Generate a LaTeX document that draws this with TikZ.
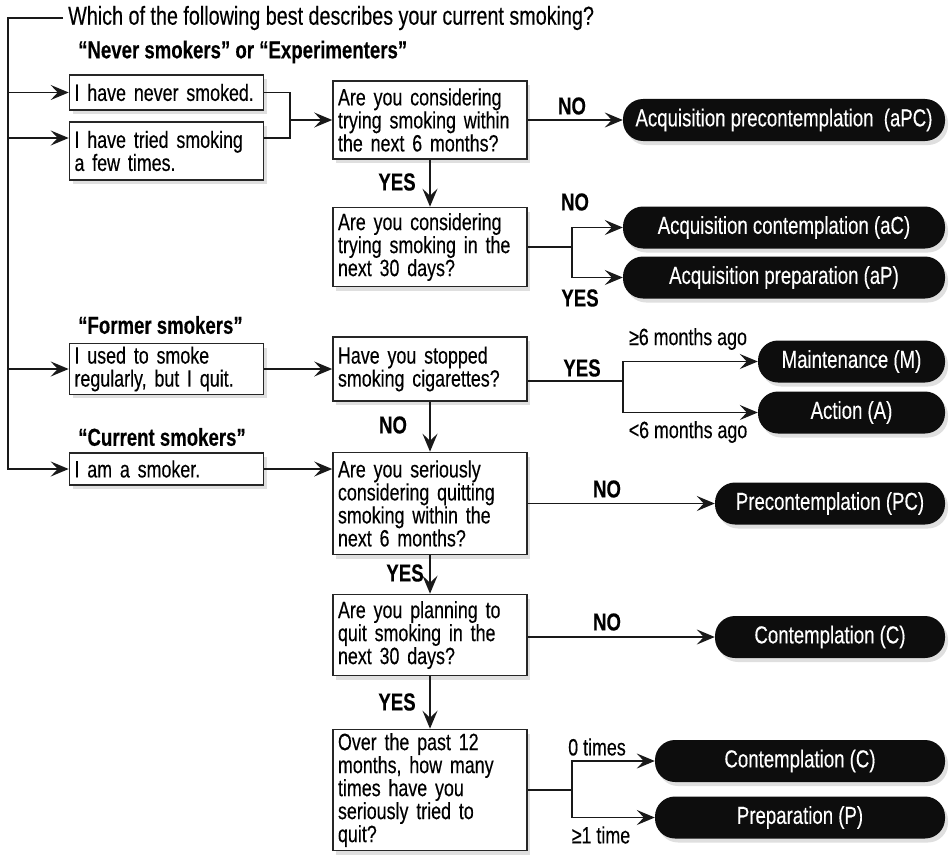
\documentclass[tikz,border=0pt]{standalone}
\usepackage{fontspec}
\setmainfont{Liberation Sans}[FakeStretch=0.76, FakeBold=0.3]
\usetikzlibrary{arrows.meta,shadows}
\DeclareRobustCommand\tightsp{\spaceskip=0.21em plus 0.1em\relax}

\tikzset{
  every node/.style={font=\fontsize{23.5}{23}\selectfont\tightsp},
  line/.style={draw=black!90, line width=1.4pt},
  flow/.style={line, -{Stealth[length=18pt,width=15pt,inset=7pt]}},
  shade/.style={drop shadow={shadow xshift=3pt, shadow yshift=-4pt, opacity=0.25}},
  abox/.style={draw=black!85, line width=1.6pt, fill=white, shade, align=left,
    text width=184pt, inner xsep=5pt, inner ysep=3pt},
  qbox/.style={abox},
  stage/.style={fill=black!95, text=white, rounded corners=20pt, shade,
    minimum height=42pt, inner sep=2pt, font=\fontsize{24.5}{24}\selectfont\tightsp},
  heading/.style={anchor=west, inner sep=1pt, font=\fontsize{24.5}{24}\selectfont\bfseries\tightsp},
  answer/.style={inner sep=1pt, font=\fontsize{24.5}{24}\selectfont\bfseries},
  note/.style={inner sep=1pt}
}

\begin{document}
\begin{tikzpicture}[x=1pt,y=-1pt]
  \useasboundingbox (0,0) rectangle (949,856);

  % Question and groups
  \node[anchor=west, inner xsep=5pt, font=\fontsize{26}{26}\selectfont\tightsp] (quest) at (63,18) {Which of the following best describes your current smoking?};
  \node[heading] (hnever) at (77,52) {“Never smokers” or “Experimenters”};
  \node[heading] (hformer) at (77,325) {“Former smokers”};
  \node[heading] (hcurrent) at (77,437) {“Current smokers”};

  % Answers
  \node[abox, minimum height=35pt] (never) at (166.5,92.5) {I have never smoked.};
  \node[abox, minimum height=58pt] (tried) at (166.5,151) {I have tried smoking\\a few times.};
  \node[abox, minimum height=50pt] (used) at (166.5,369) {I used to smoke\\regularly, but I quit.};
  \node[abox, minimum height=32pt] (smoker) at (166.5,469) {I am a smoker.};

  % Questions
  \node[qbox, minimum height=78pt] (q1) at (430,120) {Are you considering\\trying smoking within\\the next 6 months?};
  \node[qbox, minimum height=79pt] (q2) at (430,247) {Are you considering\\trying smoking in the\\next 30 days?};
  \node[qbox, minimum height=64pt] (q3) at (430,369) {Have you stopped\\smoking cigarettes?};
  \node[qbox, minimum height=102pt] (q4) at (430,503.5) {Are you seriously\\considering quitting\\smoking within the\\next 6 months?};
  \node[qbox, minimum height=81pt] (q5) at (430,635) {Are you planning to\\quit smoking in the\\next 30 days?};
  \node[qbox, minimum height=121pt] (q6) at (430,790) {Over the past 12\\months, how many\\times have you\\seriously tried to\\quit?};

  % Stages
  \node[stage, minimum width=322pt] (apc) at (784,120) {Acquisition precontemplation\ \ (aPC)};
  \node[stage, minimum width=322pt] (ac) at (784,227.5) {Acquisition contemplation (aC)};
  \node[stage, minimum width=322pt] (ap) at (784,277.5) {Acquisition preparation (aP)};
  \node[stage, minimum width=187pt] (maint) at (851.5,361.5) {Maintenance (M)};
  \node[stage, minimum width=187pt] (act) at (851.5,412.5) {Action (A)};
  \node[stage, minimum width=230pt] (pc) at (830,503.5) {Precontemplation (PC)};
  \node[stage, minimum width=230pt] (c1) at (830,637) {Contemplation (C)};
  \node[stage, minimum width=290pt] (c2) at (800,761) {Contemplation (C)};
  \node[stage, minimum width=290pt] (prep) at (800,817.5) {Preparation (P)};

  % Left spine
  \coordinate (top) at (8,18);
  \coordinate (triedin) at ([yshift=13pt]tried.west);
  \coordinate (triedout) at ([yshift=13pt]tried.east);
  \draw[flow] (quest.west) -- (top) |- (smoker.west);
  \draw[flow] (top |- never.west) -- (never.west);
  \draw[flow] (top |- triedin) -- (triedin);
  \draw[flow] (top |- used.west) -- (used.west);

  % Into the questions
  \coordinate (join) at (290,120);
  \draw[line] (never.east) -| (join) |- (triedout);
  \draw[flow] (join) -- (q1.west);
  \draw[flow] (used.east) -- (used.east -| q3.west);
  \draw[flow] (smoker.east) -- (smoker.east -| q4.west);

  % Down the questions
  \draw[flow] (q1) -- (q2);
  \draw[flow] (q3) -- (q4);
  \draw[flow] (q4) -- (q5);
  \draw[flow] (q5) -- (q6);

  % Out to the stages
  \draw[flow] (q1.east) -- (q1.east -| apc.west);
  \coordinate (split2) at (572,247);
  \draw[line] (q2.east) -- (split2);
  \draw[flow] (split2) |- (ac);
  \draw[flow] (split2) |- (ap);
  \coordinate (split3) at (623,381);
  \draw[line] (q3.east |- split3) -- (split3);
  \draw[flow] (split3) |- (maint);
  \draw[flow] (split3) |- (act);
  \draw[flow] (q4.east) -- (q4.east -| pc.west);
  \draw[flow] (q5.east |- c1.west) -- (c1.west);
  \coordinate (split6) at (572,790);
  \draw[line] (q6.east) -- (split6);
  \draw[flow] (split6) |- (c2);
  \draw[flow] (split6) |- (prep);

  % Labels
  \node[answer] (no1) at (572,106) {NO};
  \node[answer] (yes1) at (397,182) {YES};
  \node[answer] (no2) at (575,202) {NO};
  \node[answer] (yes2) at (580,298) {YES};
  \node[answer] (yes3) at (582,368) {YES};
  \node[note] (long) at (688,339) {≥6 months ago};
  \node[note] (short) at (688,432) {<6 months ago};
  \node[answer] (no3) at (393,425) {NO};
  \node[answer] (no4) at (607,489) {NO};
  \node[answer] (yes4) at (405,573) {YES};
  \node[answer] (no5) at (607,622) {NO};
  \node[answer] (yes5) at (397,702) {YES};
  \node[note] (zero) at (597,747) {0 times};
  \node[note] (once) at (601,835) {≥1 time};
\end{tikzpicture}
\end{document}
